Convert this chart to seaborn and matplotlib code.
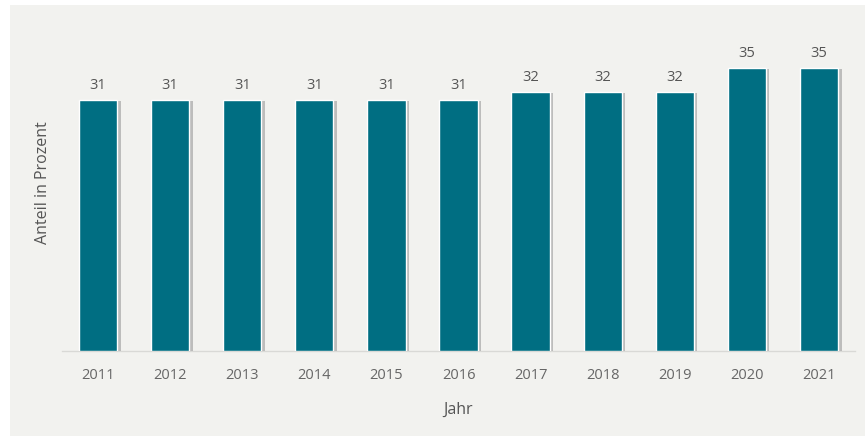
import matplotlib
matplotlib.use("Agg")
import matplotlib.pyplot as plt
import matplotlib.patheffects as pe
from matplotlib.patches import Rectangle
import seaborn as sns
import pandas as pd

years = ["2011", "2012", "2013", "2014", "2015", "2016", "2017", "2018", "2019", "2020", "2021"]
values = [31, 31, 31, 31, 31, 31, 32, 32, 32, 35, 35]

sns.set_theme(style="white")
plt.rcParams["font.family"] = ["Open Sans", "DejaVu Sans"]

W, H = 865, 436
fig = plt.figure(figsize=(W / 100, H / 100), dpi=100, facecolor="white")
bg = "#f2f2ef"
fig.patches.append(Rectangle((10 / W, 0), 1, 1 - 5 / H, transform=fig.transFigure,
                             facecolor=bg, edgecolor="none", zorder=-10))

left, right, bottom, top = 62, 855, 351, 15
ax = fig.add_axes([left / W, (H - bottom) / H, (right - left) / W, (bottom - top) / H])
ax.set_zorder(5)
ax.set_facecolor("none")

df = pd.DataFrame({"Jahr": years, "Anteil": values})
sns.barplot(data=df, x="Jahr", y="Anteil", color="#006e82", saturation=1,
            width=0.53, ax=ax, zorder=3)
for p in ax.patches:
    p.set_path_effects([pe.SimplePatchShadow(offset=(2.5, -1), shadow_rgbFace="#9a9a9a", alpha=0.6),
                        pe.Normal()])

for i, v in enumerate(values):
    ax.annotate(str(v), (i, v), xytext=(0, 5), textcoords="offset points",
                ha="center", va="bottom", fontsize=10.5, color="#555555")

ax.set_xlim(-0.5, len(years) - 0.5)
ax.set_ylim(0, 41.5)
ax.set_yticks([])
for s in ["top", "right", "left"]:
    ax.spines[s].set_visible(False)
ax.spines["bottom"].set_color("#d9d9d6")
ax.spines["bottom"].set_linewidth(1.0)
ax.tick_params(axis="x", length=0, pad=12, labelsize=10.5, labelcolor="#666666")
ax.set_xlabel("Jahr", fontsize=11.5, color="#555555", labelpad=14)
ax.set_ylabel("Anteil in Prozent", fontsize=11.5, color="#555555", labelpad=8)

fig.savefig("out.png", dpi=100, facecolor="white")
